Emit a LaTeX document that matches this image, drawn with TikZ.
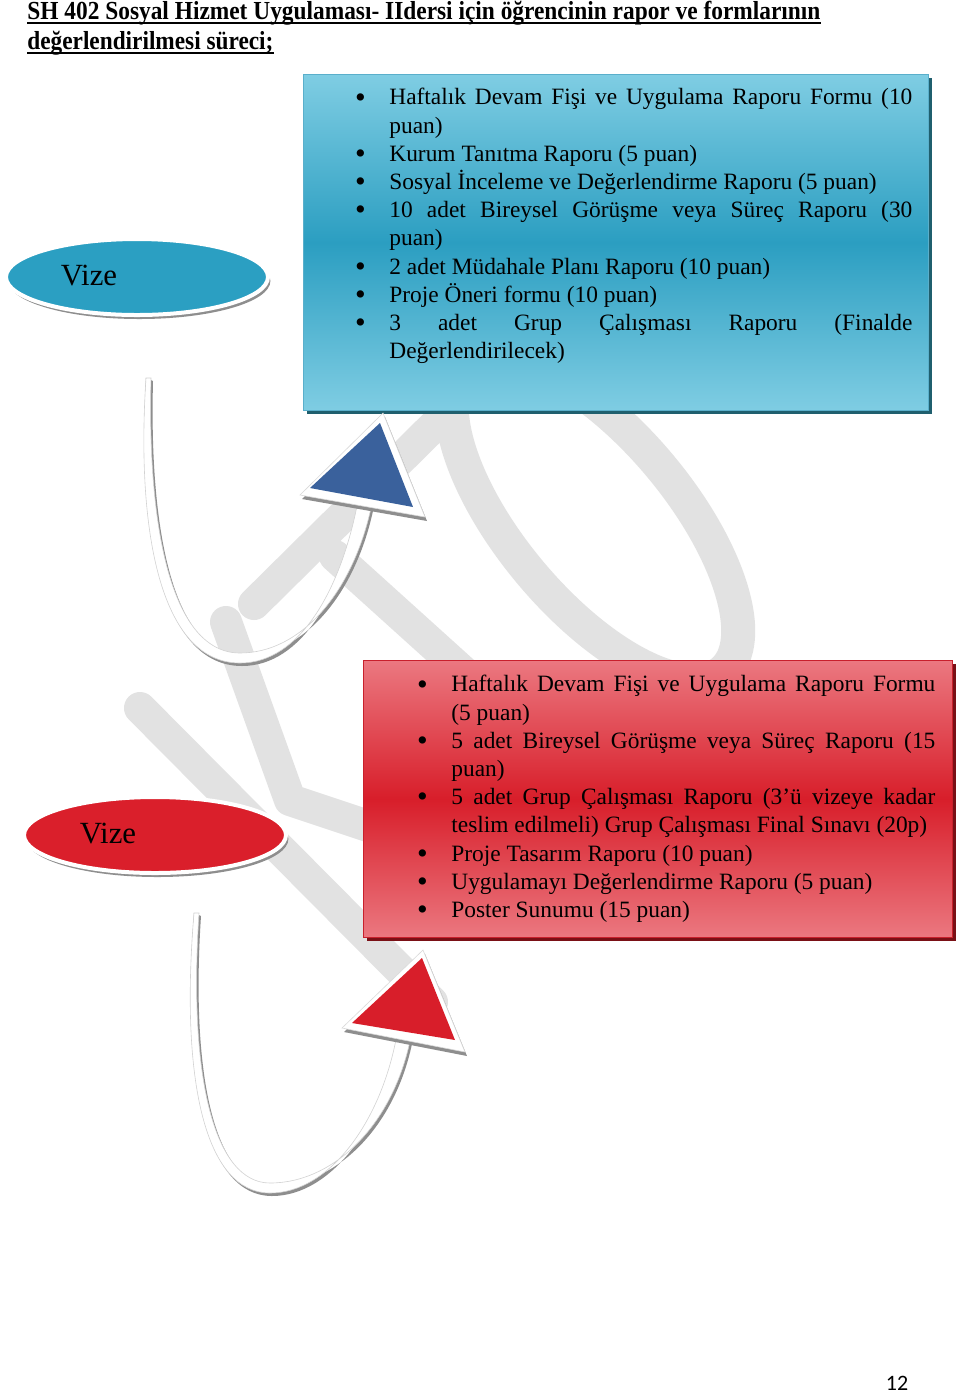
\documentclass[tikz,border=0pt]{standalone}
\usepackage{fontspec}
\usepackage{graphicx}
\setmainfont{Liberation Serif}
\newfontfamily\pagenumfont{Carlito}
\usetikzlibrary{shapes.geometric,shadows}
\definecolor{wm}{HTML}{E2E2E2}
\definecolor{bluetop}{HTML}{7FCDE3}
\definecolor{bluemid}{HTML}{2B9EC1}
\definecolor{blueborder}{HTML}{5AAFCB}
\definecolor{blueshadow}{HTML}{1F5F6E}
\definecolor{blueell}{HTML}{2B9FC2}
\definecolor{bluehead}{HTML}{3A619C}
\definecolor{redtop}{HTML}{EB7880}
\definecolor{redmid}{HTML}{D81E2A}
\definecolor{redborder}{HTML}{C8202C}
\definecolor{redshadow}{HTML}{7A1016}
\definecolor{redell}{HTML}{DA1F2B}
\definecolor{shadowgray}{HTML}{8E8E8E}
\newcommand{\bitem}[1]{\noindent\hangindent=17.5pt\hangafter=1\makebox[17.5pt][l]{\hspace{0.3pt}\raisebox{-1.1pt}{\scalebox{1.3}{\textbullet}}}#1\par}
\newcommand{\blueshaft}[1]{\path[#1] (b1start) .. controls (136,530) and (160,663) .. (240,663) .. controls (300,663) and (340,590) .. (357,506) -- (371,508) .. controls (352,594) and (300,653) .. (240,653) .. controls (172,653) and (147,530) .. (151,378) -- cycle;}
\newcommand{\redshaft}[1]{\path[#1] (r1start) .. controls (180,1080) and (205,1193) .. (270,1193) .. controls (330,1193) and (382,1120) .. (397,1034) -- (411,1036) .. controls (394,1124) and (334,1183) .. (270,1183) .. controls (215,1183) and (188,1080) .. (199,913) -- cycle;}
\begin{document}
\begin{tikzpicture}[x=0.5pt,y=-0.5pt,
  wmline/.style={draw=wm, line width=16pt, line cap=round, line join=round},
  bluebox/.style={draw=blueborder, line width=0.6pt, top color=bluetop, bottom color=bluetop, middle color=bluemid,
    drop shadow={shadow xshift=1.6pt, shadow yshift=-1.6pt, fill=blueshadow, opacity=1}},
  redbox/.style={draw=redborder, line width=0.6pt, top color=redtop, bottom color=redtop, middle color=redmid,
    drop shadow={shadow xshift=1.6pt, shadow yshift=-1.6pt, fill=redshadow, opacity=1}},
  listtext/.style={inner sep=0pt, align=justify, font=\fontsize{11.7}{14.1}\selectfont, anchor=north west},
  vizeell/.style={ellipse, draw=white, line width=2pt, minimum width=131pt, minimum height=38pt, inner sep=0pt,
    drop shadow={shadow xshift=1.2pt, shadow yshift=-2pt, fill=shadowgray, opacity=1}},
  vizetext/.style={font=\fontsize{15.4}{18}\selectfont, inner sep=0pt},
  shaftfill/.style={fill=white, draw=gray!35, line width=0.3pt},
  shaftshadow/.style={fill=shadowgray, shift={(2,3)}},
  headshadow/.style={fill=shadowgray},
  headwhite/.style={fill=white, draw=gray!30, line width=0.3pt},
  headblue/.style={fill=bluehead},
  headred/.style={fill=redmid}
]
\useasboundingbox (0,0) rectangle (960,1394);
\fill[white] (0,0) rectangle (960,1394);

% watermark
\draw[wmline] (140,708) -- (432,1002);
\draw[wmline] (226,622) -- (290,800) -- (380,830);
\draw[wmline] (254,604) -- (440,420);
\draw[wmline] (335,556) -- (500,705);
\draw[draw=wm, line width=17pt, rotate around={-50:(595,519)}] (595,519) ellipse [x radius=199, y radius=84];

% title
\node[anchor=base west, inner sep=0pt, font=\bfseries\fontsize{13}{15}\selectfont] (title1) at (27,19)
  {\resizebox{396.5pt}{\height}{SH 402 Sosyal Hizmet Uygulaması- IIdersi için öğrencinin rapor ve formlarının}};
\node[anchor=base west, inner sep=0pt, font=\bfseries\fontsize{13}{15}\selectfont] (title2) at (27,49)
  {\resizebox{123pt}{\height}{değerlendirilmesi süreci;}};
\draw[line width=1pt] ([yshift=-2pt]title1.base west) -- ([yshift=-2pt]title1.base east);
\draw[line width=1pt] ([yshift=-2pt]title2.base west) -- ([yshift=-2pt]title2.base east);

% boxes
\node[bluebox, anchor=north west, minimum width=312.5pt, minimum height=168pt] (box1) at (303,74) {};
\node[redbox, anchor=north west, minimum width=294.5pt, minimum height=138.5pt] (box2) at (363,660) {};

\node[listtext, text width=279pt] (list1) at (354,88) {%
\bitem{Haftalık Devam Fişi ve Uygulama Raporu Formu (10\linebreak puan)}%
\bitem{Kurum Tanıtma Raporu (5 puan)}%
\bitem{Sosyal İnceleme ve Değerlendirme Raporu (5 puan)}%
\bitem{10 adet Bireysel Görüşme veya Süreç Raporu (30\linebreak puan)}%
\bitem{2 adet Müdahale Planı Raporu (10 puan)}%
\bitem{Proje Öneri formu (10 puan)}%
\bitem{3 adet Grup Çalışması Raporu (Finalde\linebreak Değerlendirilecek)}};

\node[listtext, text width=259.5pt] (list2) at (416,675) {%
\bitem{Haftalık Devam Fişi ve Uygulama Raporu Formu\linebreak (5 puan)}%
\bitem{5 adet Bireysel Görüşme veya Süreç Raporu (15\linebreak puan)}%
\bitem{5 adet Grup Çalışması Raporu (3’ü vizeye kadar\linebreak teslim edilmeli) Grup Çalışması Final Sınavı (20p)}%
\bitem{Proje Tasarım Raporu (10 puan)}%
\bitem{Uygulamayı Değerlendirme Raporu (5 puan)}%
\bitem{Poster Sunumu (15 puan)}};

% ellipses
\node[vizeell, fill=blueell] (vize1) at (137,277) {};
\node[vizetext] (vize1t) at (89,276) {Vize};
\node[vizeell, fill=redell] (vize2) at (155,835) {};
\node[vizetext] (vize2t) at (108,834) {Vize};

% blue curved arrow
\coordinate (b1start) at (146,378);
\coordinate (b1otip) at (383,413);
\coordinate (b1oleft) at (300,495);
\coordinate (b1oright) at (425,517);
\coordinate (b1tip) at (380,423);
\coordinate (b1left) at (310,488);
\coordinate (b1right) at (413,507);
\blueshaft{shaftshadow}
\blueshaft{shaftfill}
\path[headshadow] ([shift={(2,4)}]b1otip) -- ([shift={(2,4)}]b1oleft) -- ([shift={(2,4)}]b1oright) -- cycle;
\path[headwhite] (b1otip) -- (b1oleft) -- (b1oright) -- cycle;
\path[headblue] (b1tip) -- (b1left) -- (b1right) -- cycle;

% red curved arrow
\coordinate (r1start) at (194,913);
\coordinate (r1otip) at (423,950);
\coordinate (r1oleft) at (342,1028);
\coordinate (r1oright) at (465,1052);
\coordinate (r1tip) at (422,958);
\coordinate (r1left) at (352,1023);
\coordinate (r1right) at (455,1040);
\redshaft{shaftshadow}
\redshaft{shaftfill}
\path[headshadow] ([shift={(2,4)}]r1otip) -- ([shift={(2,4)}]r1oleft) -- ([shift={(2,4)}]r1oright) -- cycle;
\path[headwhite] (r1otip) -- (r1oleft) -- (r1oright) -- cycle;
\path[headred] (r1tip) -- (r1left) -- (r1right) -- cycle;

% page number
\node[inner sep=0pt, font=\pagenumfont\fontsize{11}{13}\selectfont] (pagenum) at (897,1383) {12};
\end{tikzpicture}
\end{document}
